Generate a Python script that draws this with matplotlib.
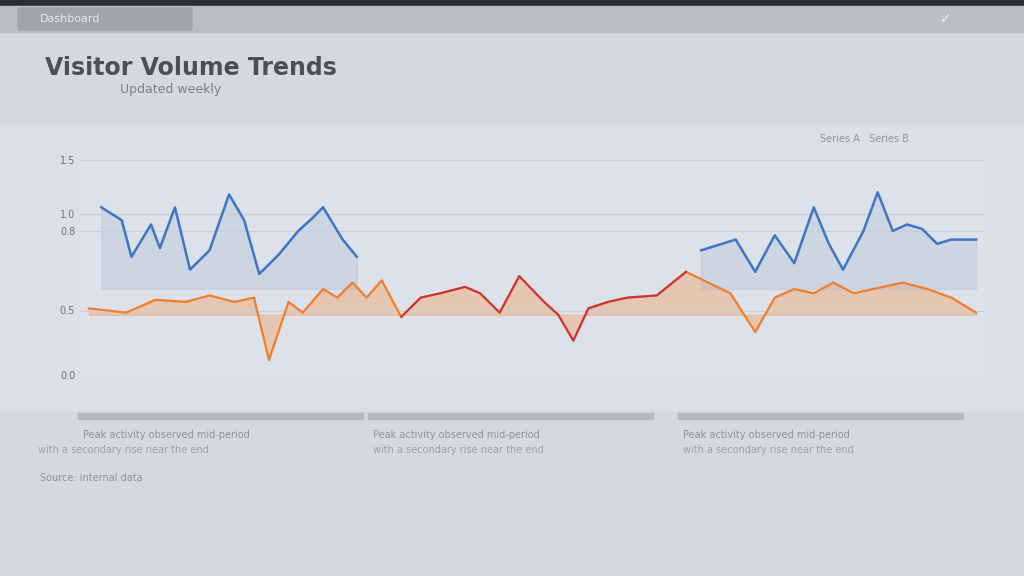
import numpy as np
import matplotlib.pyplot as plt
from matplotlib.patches import Rectangle, FancyBboxPatch

# data (x = position along period, y = index value)
orange_x = [0, 4.2, 7.5, 10.9, 13.6, 16.4, 18.6, 20.3, 22.5, 24.1, 26.4, 28, 29.7, 31.3, 33, 35.2,
            37.4, 39.6, 42.4, 44.1, 46.3, 48.5, 51.3, 52.9, 54.6, 56.3, 58.5, 60.7, 64, 67.3, 72.3,
            75.1, 77.3, 79.5, 81.7, 83.9, 86.2, 88.4, 91.7, 94.5, 97.2, 100]
orange_y = [31, 29, 35, 34, 37, 34, 36, 7, 34, 29, 40, 36, 43, 36, 44, 27,
            36, 38, 41, 38, 29, 46, 34, 28, 16, 31, 34, 36, 37, 48, 38,
            20, 36, 40, 38, 43, 38, 40, 43, 40, 36, 29]
blue_left_x = [1.4, 3.7, 4.8, 7, 8, 9.7, 11.4, 13.6, 15.8, 17.5, 19.2, 21.4, 23.6, 25.2, 26.4, 28.6, 30.2]
blue_left_y = [78, 72, 55, 70, 59, 78, 49, 58, 84, 72, 47, 56, 67, 73, 78, 63, 55]
blue_right_x = [69, 72.9, 75.1, 77.3, 79.5, 81.7, 83.4, 85, 87.3, 88.9, 90.6, 92.2, 93.9, 95.6, 97.2, 100]
blue_right_y = [58, 63, 48, 65, 52, 78, 61, 49, 67, 85, 67, 70, 68, 61, 63, 63]
y_ticks = [0, 30, 67, 75, 100]
y_labels = ["0.0", "0.5", "0.8", "1.0", "1.5"]

fig = plt.figure(figsize=(10.24, 5.76), dpi=100)
fig.patch.set_facecolor("#d3d8e1")

# page chrome
bg = fig.add_axes([0, 0, 1, 1])
bg.set_xlim(0, 1024)
bg.set_ylim(576, 0)
bg.axis("off")
bg.add_patch(Rectangle((0, 0), 1024, 6, color="#2b2e35"))
bg.add_patch(Rectangle((0, 6), 1024, 26, color="#b9bec8"))
bg.add_patch(FancyBboxPatch((20, 10), 170, 18, boxstyle="round,pad=2", color="#9ea3ad"))
bg.text(40, 19, "Dashboard", fontsize=8, va="center", color="#e6e8ec")
bg.text(940, 19, "\u2713", fontsize=10, va="center", color="#f0f0f0")
bg.text(45, 68, "Visitor Volume Trends", fontsize=17, color="#4a4f5a", va="center", fontweight="bold")
bg.text(120, 89, "Updated weekly", fontsize=9, color="#7a7f8a", va="center")
bg.add_patch(Rectangle((0, 125), 1024, 285, color="#dbe0e8"))
bg.text(820, 139, "Series A   Series B", fontsize=7, color="#8d929c", va="center")
for x0 in [78, 368, 678]:
    bg.add_patch(Rectangle((x0, 413), 285, 6, color="#b4b9c2"))
    bg.text(x0 + 5, 435, "Peak activity observed mid-period", fontsize=7, color="#8d929c", va="center")
    bg.text(x0 - 40 if x0 == 78 else x0 + 5, 450, "with a secondary rise near the end", fontsize=7,
            color="#9ca1ab", va="center")
bg.text(40, 478, "Source: internal data", fontsize=7, color="#8d929c", va="center")

ax = fig.add_axes([80 / 1024, 1 - 375 / 576, 905 / 1024, 215 / 576])
ax.set_facecolor("#dde2ea")
ax.plot(orange_x, orange_y, color="#f07f2e", lw=1.6)
ax.plot(orange_x[15:30], orange_y[15:30], color="#c8323c", lw=1.4)
ax.fill_between(orange_x, orange_y, 28, color="#f5944a", alpha=0.35)
ax.plot(blue_left_x, blue_left_y, color="#3e77c4", lw=1.8)
ax.plot(blue_right_x, blue_right_y, color="#3e77c4", lw=1.8)
ax.fill_between(blue_left_x, blue_left_y, 40, color="#a9b8d3", alpha=0.3)
ax.fill_between(blue_right_x, blue_right_y, 40, color="#a9b8d3", alpha=0.3)
ax.set_xlim(-1, 101)
ax.set_ylim(0, 100)
ax.set_yticks(y_ticks)
ax.set_yticklabels(y_labels, fontsize=7, color="#6d727c")
ax.set_xticks([])
ax.grid(axis="y", color="#c9ced7", lw=0.8)
for s in ax.spines.values():
    s.set_visible(False)
ax.tick_params(length=0)

plt.savefig("out.png", dpi=100, facecolor=fig.get_facecolor())
